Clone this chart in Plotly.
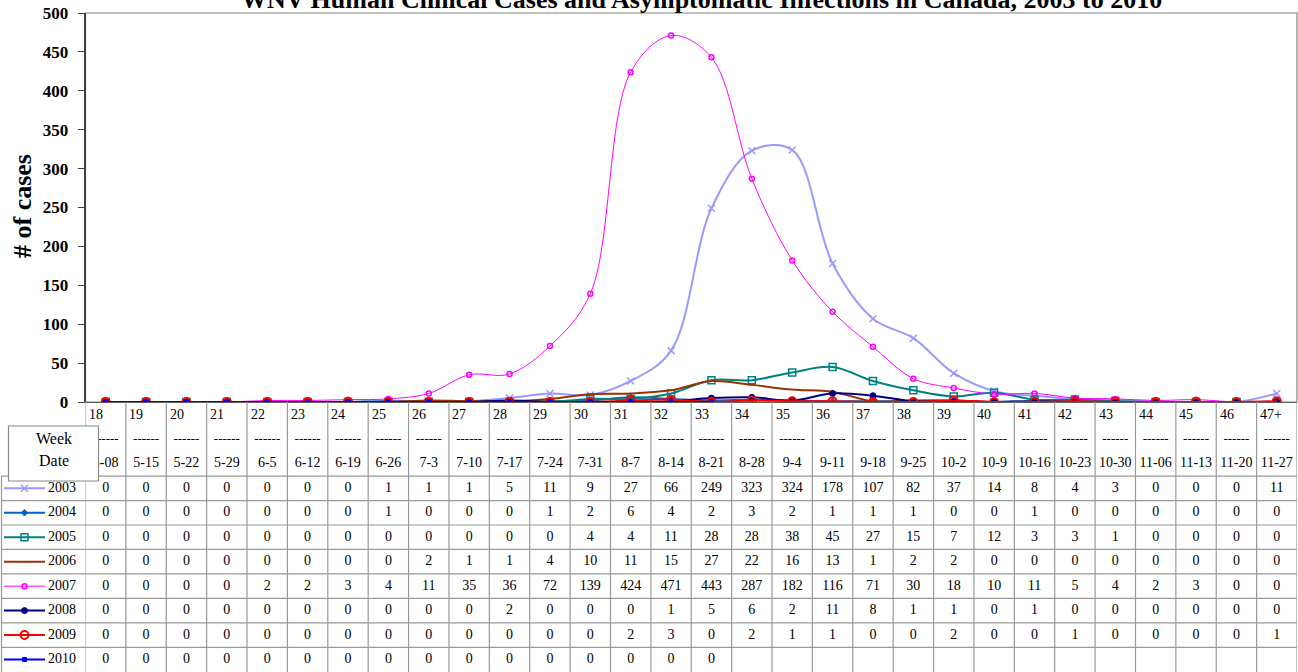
import plotly.graph_objects as go

weeks = ['18', '19', '20', '21', '22', '23', '24', '25', '26', '27', '28', '29', '30', '31', '32',
         '33', '34', '35', '36', '37', '38', '39', '40', '41', '42', '43', '44', '45', '46', '47+']
dates = ['5-08', '5-15', '5-22', '5-29', '6-5', '6-12', '6-19', '6-26', '7-3', '7-10', '7-17', '7-24',
         '7-31', '8-7', '8-14', '8-21', '8-28', '9-4', '9-11', '9-18', '9-25', '10-2', '10-9', '10-16',
         '10-23', '10-30', '11-06', '11-13', '11-20', '11-27']
years = ['2003', '2004', '2005', '2006', '2007', '2008', '2009', '2010']

cases_2003 = [0, 0, 0, 0, 0, 0, 0, 1, 1, 1, 5, 11, 9, 27, 66, 249, 323, 324, 178, 107, 82, 37, 14, 8, 4, 3, 0, 0, 0, 11]
cases_2004 = [0, 0, 0, 0, 0, 0, 0, 1, 0, 0, 0, 1, 2, 6, 4, 2, 3, 2, 1, 1, 1, 0, 0, 1, 0, 0, 0, 0, 0, 0]
cases_2005 = [0, 0, 0, 0, 0, 0, 0, 0, 0, 0, 0, 0, 4, 4, 11, 28, 28, 38, 45, 27, 15, 7, 12, 3, 3, 1, 0, 0, 0, 0]
cases_2006 = [0, 0, 0, 0, 0, 0, 0, 0, 2, 1, 1, 4, 10, 11, 15, 27, 22, 16, 13, 1, 2, 2, 0, 0, 0, 0, 0, 0, 0, 0]
cases_2007 = [0, 0, 0, 0, 2, 2, 3, 4, 11, 35, 36, 72, 139, 424, 471, 443, 287, 182, 116, 71, 30, 18, 10, 11, 5, 4, 2, 3, 0, 0]
cases_2008 = [0, 0, 0, 0, 0, 0, 0, 0, 0, 0, 2, 0, 0, 0, 1, 5, 6, 2, 11, 8, 1, 1, 0, 1, 0, 0, 0, 0, 0, 0]
cases_2009 = [0, 0, 0, 0, 0, 0, 0, 0, 0, 0, 0, 0, 0, 2, 3, 0, 2, 1, 1, 0, 0, 2, 0, 0, 1, 0, 0, 0, 0, 1]
cases_2010 = [0, 0, 0, 0, 0, 0, 0, 0, 0, 0, 0, 0, 0, 0, 0, 0,
              None, None, None, None, None, None, None, None, None, None, None, None, None, None]

series = [cases_2003, cases_2004, cases_2005, cases_2006, cases_2007, cases_2008, cases_2009, cases_2010]

styles = [
    dict(color='#9999FF', width=2, symbol='x-thin-open', size=7, mlw=1.5),
    dict(color='#0066CC', width=2, symbol='diamond', size=5, mlw=1),
    dict(color='#008080', width=2, symbol='square-open', size=7, mlw=1.5),
    dict(color='#993300', width=2, symbol='line-ew-open', size=5, mlw=1),
    dict(color='#FF00FF', width=1, symbol='circle-open', size=5, mlw=1.5),
    dict(color='#000080', width=2, symbol='circle', size=6, mlw=1),
    dict(color='#FF0000', width=2, symbol='circle-open', size=8, mlw=2),
    dict(color='#0000FF', width=2, symbol='square', size=4, mlw=1),
]

FONT = 'Liberation Serif'
W, H = 1298, 672
X0, X1 = 85.5, 1297.0   # plot area left/right px
YT, YB = 13.0, 402.0    # line chart top/bottom px
HEAD_TOP = -3.03        # header extent in table row units
ROWS = 8.01

n = len(weeks)
xs = list(range(n))

fig = go.Figure()

# line series
for yr, vals, st in zip(years, series, styles):
    fig.add_trace(go.Scatter(
        x=xs, y=vals, mode='lines+markers', name=yr,
        line=dict(color=st['color'], width=st['width'], shape='spline', smoothing=1.0),
        marker=dict(symbol=st['symbol'], size=st['size'], color=st['color'],
                    line=dict(color=st['color'], width=st['mlw'])),
        xaxis='x', yaxis='y', showlegend=False, connectgaps=False,
    ))

# table cell values
for r, vals in enumerate(series):
    fig.add_trace(go.Scatter(
        x=xs, y=[r + 0.5] * n, mode='text',
        text=['' if v is None else str(v) for v in vals],
        textposition='middle center',
        textfont=dict(family=FONT, size=14, color='black'),
        xaxis='x', yaxis='y2', showlegend=False, hoverinfo='skip',
    ))

# header: dashes and dates
fig.add_trace(go.Scatter(
    x=xs, y=[-1.48] * n, mode='text', text=['------'] * n,
    textposition='middle center', textfont=dict(family=FONT, size=13, color='black'),
    xaxis='x', yaxis='y2', showlegend=False, hoverinfo='skip'))
fig.add_trace(go.Scatter(
    x=xs, y=[-0.50] * n, mode='text', text=dates,
    textposition='middle center', textfont=dict(family=FONT, size=14, color='black'),
    xaxis='x', yaxis='y2', showlegend=False, hoverinfo='skip'))

# legend keys in the left column
for r, (yr, st) in enumerate(zip(years, styles)):
    fig.add_trace(go.Scatter(
        x=[4, 24.5, 45], y=[r + 0.5] * 3, mode='lines+markers',
        line=dict(color=st['color'], width=st['width']),
        marker=dict(symbol=st['symbol'], size=st['size'], color=st['color'], opacity=[0, 1, 0],
                    line=dict(color=st['color'], width=st['mlw'])),
        xaxis='x2', yaxis='y2', showlegend=False, hoverinfo='skip'))
    fig.add_trace(go.Scatter(
        x=[62], y=[r + 0.5], mode='text', text=[yr], textposition='middle center',
        textfont=dict(family=FONT, size=14, color='black'),
        xaxis='x2', yaxis='y2', showlegend=False, hoverinfo='skip'))

shapes = []
grid = '#9a9a9a'
# plot-area border
shapes.append(dict(type='rect', xref='x domain', yref='y domain', x0=0, x1=1, y0=0, y1=1,
                   line=dict(color='#808080', width=1.2), layer='below'))
# vertical table lines
for k in range(n + 1):
    shapes.append(dict(type='line', xref='x', yref='y2', x0=k - 0.5, x1=k - 0.5,
                       y0=HEAD_TOP, y1=ROWS, line=dict(color=grid, width=1.2), layer='below'))
# horizontal table lines
for r in range(len(years)):
    shapes.append(dict(type='line', xref='paper', yref='y2', x0=1.5 / W, x1=X1 / W,
                       y0=r, y1=r, line=dict(color=grid, width=1.2), layer='below'))
# legend column left border
shapes.append(dict(type='line', xref='paper', yref='y2', x0=1.5 / W, x1=1.5 / W,
                   y0=0, y1=ROWS, line=dict(color=grid, width=1.2), layer='below'))
# Week / Date box
shapes.append(dict(type='rect', xref='paper', yref='paper',
                   x0=8.5 / W, x1=98.5 / W, y0=1 - 481 / H, y1=1 - 426 / H,
                   fillcolor='white', line=dict(color='#8a8a8a', width=1.2), layer='above'))

annotations = []
# week numbers (top-left of header cells)
for k, wk in enumerate(weeks):
    annotations.append(dict(xref='x', yref='y2', x=k - 0.5, y=-2.50, text=wk, showarrow=False,
                            xanchor='left', yanchor='middle', xshift=1.5,
                            font=dict(family=FONT, size=14, color='black')))
annotations.append(dict(xref='paper', yref='paper', x=53.5 / W, y=1 - 438 / H, text='Week',
                        showarrow=False, xanchor='center', yanchor='middle',
                        font=dict(family=FONT, size=16, color='black')))
annotations.append(dict(xref='paper', yref='paper', x=53.5 / W, y=1 - 460 / H, text='Date',
                        showarrow=False, xanchor='center', yanchor='middle',
                        font=dict(family=FONT, size=16, color='black')))
# title (partly off the top of the page)
annotations.append(dict(xref='paper', yref='paper', x=701 / W, y=1 - 16 / H,
                        text='<b>WNV Human Clinical Cases and Asymptomatic Infections in Canada, 2003 to 2010</b>',
                        showarrow=False, xanchor='center', yanchor='bottom',
                        font=dict(family=FONT, size=26, color='black')))
# y-axis title
annotations.append(dict(xref='paper', yref='paper', x=22 / W, y=1 - 206 / H,
                        text='<b># of cases</b>', textangle=-90, showarrow=False,
                        xanchor='center', yanchor='middle',
                        font=dict(family=FONT, size=26, color='black')))

fig.update_layout(
    template='none',
    width=W, height=H, autosize=False,
    margin=dict(l=0, r=0, t=0, b=0, pad=0, autoexpand=False),
    paper_bgcolor='white', plot_bgcolor='white', showlegend=False,
    xaxis=dict(domain=[X0 / W, X1 / W], range=[-0.5, n - 0.5], showticklabels=False, ticks='',
               showgrid=False, zeroline=False, showline=True, linecolor='#606060', linewidth=1.2,
               anchor='y', layer='below traces', automargin=False),
    yaxis=dict(domain=[1 - YB / H, 1 - YT / H], range=[0, 500], dtick=50, tick0=0,
               ticks='outside', ticklen=6, tickwidth=1.2, tickcolor='#404040',
               showline=True, linecolor='#404040', linewidth=1.5, showgrid=False, zeroline=False,
               tickfont=dict(family=FONT, size=17, color='black', weight='bold'),
               ticklabelstandoff=6, anchor='x', layer='below traces', automargin=False),
    xaxis2=dict(domain=[0, X0 / W], range=[0, X0], visible=False, anchor='y2', automargin=False),
    yaxis2=dict(domain=[0, 1 - YB / H], range=[ROWS, HEAD_TOP], visible=False, anchor='x',
                automargin=False),
    shapes=shapes, annotations=annotations,
    font=dict(family=FONT),
)

fig.write_html('out.html', config={'displayModeBar': False},
               post_script="document.body.style.margin='0px';document.body.style.overflow='hidden';")
